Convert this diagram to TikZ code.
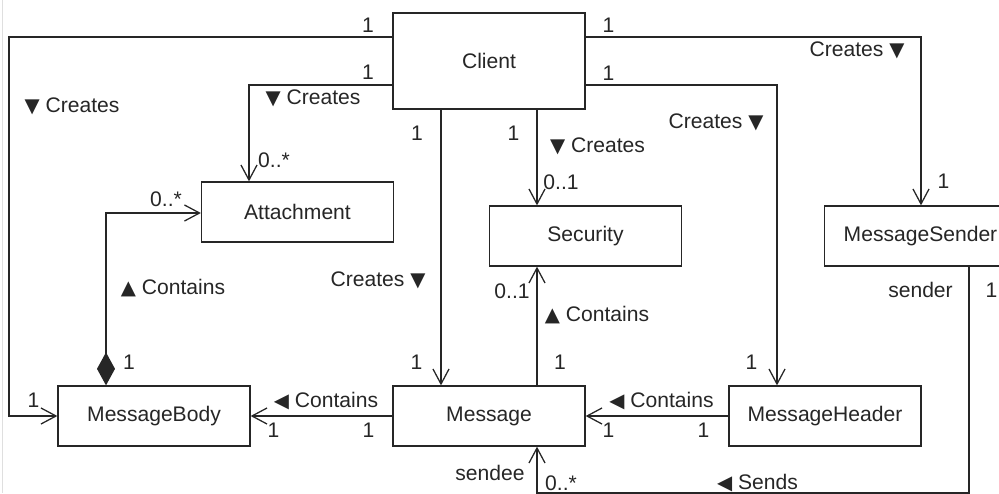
\documentclass[tikz,border=0pt]{standalone}
\usepackage{fontspec}
\setmainfont{Liberation Sans}
\newfontfamily\symfont{DejaVu Sans}
\usetikzlibrary{arrows.meta}
\newcommand{\dtri}{{\symfont\fontsize{14}{14}\selectfont ▼}}
\newcommand{\utri}{{\symfont\fontsize{14}{14}\selectfont ▲}}
\newcommand{\ltri}{{\symfont\fontsize{14}{14}\selectfont ◀}}

\begin{document}
\begin{tikzpicture}[
  x=0.25cm, y=-0.25cm,
  black!85,
  >={Straight Barb[length=10.7pt,width=11.4pt]},
  line width=0.9pt,
  font=\fontsize{15}{18}\selectfont,
  cls/.style={draw,fill=white,minimum width=4.8cm,minimum height=1.5cm,inner sep=0},
  lbl/.style={inner sep=0}
  ]

  \clip (0,0) rectangle (99.9,49.3);
  \draw[gray!25,line width=0.6pt] (0.25,0) -- (0.25,49.3);

  \node [cls,minimum height=2.4cm] (client) at (48.9,6.1) {Client};
  \node [cls] (attach) at (29.75,21.2) {Attachment};
  \node [cls] (security) at (58.55,23.6) {Security};
  \node [cls] (sender) at (92.05,23.6) {MessageSender};
  \node [cls] (body) at (15.4,41.6) {MessageBody};
  \node [cls] (message) at (48.9,41.6) {Message};
  \node [cls] (header) at (82.5,41.6) {MessageHeader};

  \draw[->] (client.west |- 0,3.7) -- (0.9,3.7) |- (body.west);
  \draw[->] (client.west |- 0,8.5) -| (24.9,0 |- attach.north);
  \draw[->] (44.1,0 |- client.south) -- (44.1,0 |- message.north);
  \draw[->] (53.7,0 |- client.south) -- (53.7,0 |- security.north);
  \draw[->] (client.east |- 0,8.5) -| (77.7,0 |- header.north);
  \draw[->] (client.east |- 0,3.7) -| (92.1,0 |- sender.north);
  \draw[{Diamond[length=23.5pt,width=12.8pt]}->] (10.6,0 |- body.north) |- (attach.west |- 0,21.3);
  \draw[->] (53.7,0 |- message.north) -- (53.7,0 |- security.south);
  \draw[->] (message.west) -- (body.east);
  \draw[->] (header.west) -- (message.east);
  \draw[->] (96.9,0 |- sender.south) -- (96.9,49.3) -| (53.7,0 |- message.south);

  \node[lbl] (n1) at (36.8,2.5) {1};
  \node[lbl] (n2) at (36.8,7.2) {1};
  \node[lbl] (n3) at (60.85,2.5) {1};
  \node[lbl] (n4) at (60.85,7.3) {1};
  \node[lbl] (n5) at (41.7,13.3) {1};
  \node[lbl] (n6) at (51.35,13.3) {1};
  \node[lbl] (n7) at (94.35,18.15) {1};
  \node[lbl] (n8) at (12.9,36.2) {1};
  \node[lbl] (n9) at (41.65,36.2) {1};
  \node[lbl] (n10) at (56.0,36.2) {1};
  \node[lbl] (n11) at (75.15,36.2) {1};
  \node[lbl] (n12) at (3.35,40.0) {1};
  \node[lbl] (n13) at (27.35,43.0) {1};
  \node[lbl] (n14) at (36.85,43.0) {1};
  \node[lbl] (n15) at (60.85,43.0) {1};
  \node[lbl] (n16) at (70.35,43.0) {1};
  \node[lbl] (n17) at (99.15,29.0) {1};

  \node[lbl] (m1) at (27.4,16.0) {0..*};
  \node[lbl] (m2) at (16.6,19.9) {0..*};
  \node[lbl] (m3) at (56.1,18.2) {0..1};
  \node[lbl] (m4) at (51.2,29.1) {0..1};
  \node[lbl] (m5) at (56.1,48.3) {0..*};

  \node[lbl] (r1) at (92.05,29.0) {sender};
  \node[lbl] (r2) at (49.0,47.3) {sendee};

  \node[lbl] (a1) at (7.2,10.6) {\dtri\ Creates};
  \node[lbl] (a2) at (31.3,9.8) {\dtri\ Creates};
  \node[lbl] (a3) at (59.75,14.6) {\dtri\ Creates};
  \node[lbl] (a4) at (37.8,28.0) {Creates \dtri};
  \node[lbl] (a5) at (71.6,12.25) {Creates \dtri};
  \node[lbl] (a6) at (85.7,5.05) {Creates \dtri};
  \node[lbl] (a7) at (17.3,28.8) {\utri\ Contains};
  \node[lbl] (a8) at (59.7,31.5) {\utri\ Contains};
  \node[lbl] (a9) at (32.6,40.1) {\ltri\ Contains};
  \node[lbl] (a10) at (66.15,40.1) {\ltri\ Contains};
  \node[lbl] (a11) at (75.75,48.3) {\ltri\ Sends};

\end{tikzpicture}
\end{document}
